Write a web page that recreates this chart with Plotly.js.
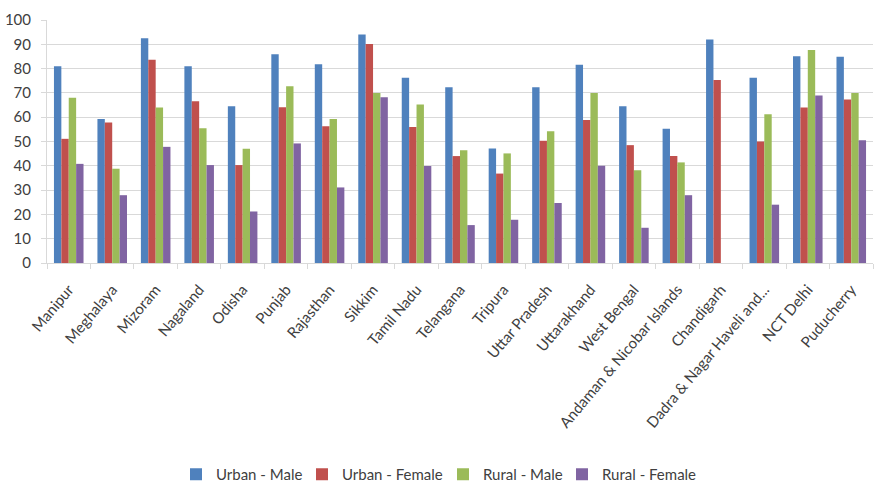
<!DOCTYPE html>
<html>
<head>
<meta charset="utf-8">
<script src="https://cdn.plot.ly/plotly-3.0.1.min.js"></script>
<style>html,body{margin:0;padding:0;background:#fff;}#chart{width:882px;height:489px;}</style>
</head>
<body>
<div id="chart"></div>
<script>
const categories = ["Manipur","Meghalaya","Mizoram","Nagaland","Odisha","Punjab","Rajasthan","Sikkim","Tamil Nadu","Telangana","Tripura","Uttar Pradesh","Uttarakhand","West Bengal","Andaman & Nicobar Islands","Chandigarh","Dadra & Nagar Haveli and...","NCT Delhi","Puducherry"];
const urbanMale   = [81.0,59.3,92.5,81.0,64.5,85.9,81.8,94.0,76.2,72.3,47.1,72.3,81.6,64.5,55.2,92.0,76.2,85.1,84.9];
const urbanFemale = [51.1,57.8,83.6,66.6,40.3,64.1,56.3,90.1,56.0,44.0,36.8,50.3,58.8,48.5,44.0,75.3,50.0,64.0,67.3];
const ruralMale   = [68.0,38.8,64.0,55.5,47.0,72.7,59.3,70.0,65.2,46.4,45.1,54.2,70.0,38.2,41.4,null,61.2,87.7,70.0];
const ruralFemale = [40.8,27.9,47.8,40.3,21.2,49.2,31.1,68.2,39.9,15.6,17.8,24.7,40.0,14.5,27.9,null,24.0,68.9,50.5];
const seriesNames = ["Urban - Male","Urban - Female","Rural - Male","Rural - Female"];
const colors = ["#4F81BD","#C0504D","#9BBB59","#8064A2"];
const series = [urbanMale, urbanFemale, ruralMale, ruralFemale];

const W = 882, H = 489;
// approximate legend entry left positions (px)
const legendLeft = [176, 302, 443, 562];
const legendIds = ['legend', 'legend2', 'legend3', 'legend4'];

const traces = series.map((vals, i) => ({
  type: 'bar',
  name: seriesNames[i],
  x: categories,
  y: vals,
  marker: {color: colors[i]},
  legend: legendIds[i],
  hoverinfo: 'x+y+name'
}));

const layout = {
  width: W, height: H,
  margin: {l: 47, r: 9, t: 20, b: 226, autoexpand: false},
  paper_bgcolor: '#fff', plot_bgcolor: '#fff',
  font: {family: 'Lato, "Open Sans", sans-serif', size: 15, color: '#404040'},
  barmode: 'group',
  bargap: 0.32,
  bargroupgap: 0,
  showlegend: true,
  xaxis: {
    type: 'category',
    tickangle: -50,
    automargin: false,
    showline: true, linecolor: '#d9d9d9', linewidth: 1,
    ticks: 'outside', tickson: 'boundaries', ticklen: 5, tickcolor: '#d9d9d9',
    ticklabelstandoff: 11,
    showgrid: false,
    tickfont: {size: 15, color: '#404040'}
  },
  yaxis: {
    range: [0, 100], dtick: 10,
    showline: true, linecolor: '#d9d9d9', linewidth: 1,
    gridcolor: '#d9d9d9', gridwidth: 1,
    zeroline: false,
    ticks: 'outside', ticklen: 5, tickcolor: '#d9d9d9', ticklabelstandoff: 7,
    automargin: false,
    tickfont: {size: 15, color: '#404040'}
  }
};
legendIds.forEach((id, i) => {
  layout[id] = {
    orientation: 'h', xref: 'container', yref: 'container',
    x: legendLeft[i] / W, xanchor: 'left',
    y: 1 - 474.5 / H, yanchor: 'middle',
    font: {size: 15, color: '#404040'}, itemwidth: 30,
    bgcolor: 'rgba(0,0,0,0)'
  };
});

Plotly.newPlot('chart', traces, layout, {displayModeBar: false, staticPlot: true});
</script>
</body>
</html>
